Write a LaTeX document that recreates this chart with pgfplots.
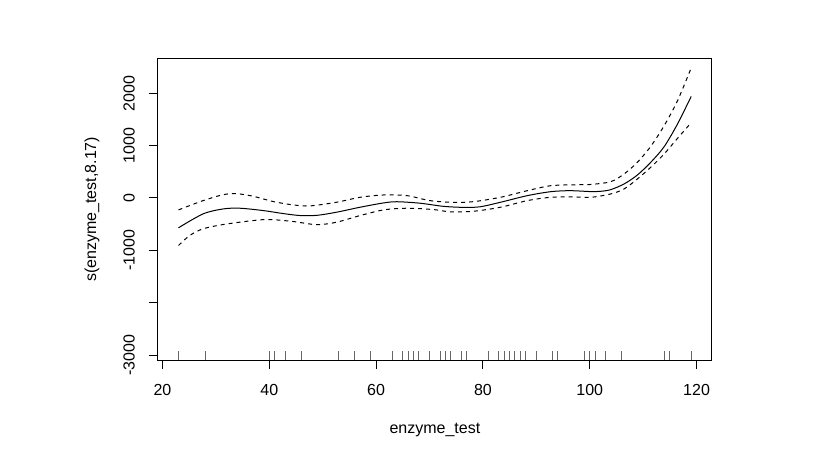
\documentclass[border=0pt]{standalone}
\usepackage{fontspec}
\setmainfont{Liberation Sans}
\usepackage{pgfplots}
\usepackage{pgfplotstable}
\pgfplotsset{compat=1.18}

% rug positions (observed enzyme_test values); y = rug tick centre
\pgfplotstableread{
x y
23 -3009.5
28 -3009.5
40 -3009.5
41 -3009.5
43 -3009.5
46 -3009.5
53 -3009.5
56 -3009.5
59 -3009.5
63 -3009.5
65 -3009.5
66 -3009.5
67 -3009.5
68 -3009.5
70 -3009.5
72 -3009.5
73 -3009.5
74 -3009.5
76 -3009.5
77 -3009.5
81 -3009.5
83 -3009.5
84 -3009.5
85 -3009.5
86 -3009.5
87 -3009.5
88 -3009.5
90 -3009.5
93 -3009.5
94 -3009.5
99 -3009.5
100 -3009.5
101 -3009.5
103 -3009.5
106 -3009.5
114 -3009.5
115 -3009.5
119 -3009.5
}\rugdata

\begin{document}
\begin{tikzpicture}
% page size: 820x472 px at 0.75pt per px
\path[use as bounding box] (-118.5pt,-84pt) rectangle (496.5pt,270pt);
\begin{axis}[
    at={(0,0)}, anchor=south west,
    scale only axis,
    width=415.3pt, height=226.1pt,
    xmin=19.16, xmax=122.84,
    ymin=-3095, ymax=2663,
    axis line style={line width=0.75pt},
    tick style={black, line width=0.75pt},
    tick align=outside,
    major tick length=6.75pt,
    xtick pos=bottom, ytick pos=left,
    xtick={20,40,60,80,100,120},
    xticklabels={20,40,60,80,100,120},
    ytick={-3000,-2000,-1000,0,1000,2000},
    yticklabels={-3000,,-1000,0,1000,2000},
    tick label style={font=\fontsize{12}{14}\selectfont},
    xticklabel style={anchor=center, yshift=-15.75pt},
    yticklabel style={rotate=90, anchor=center, yshift=15pt},
    label style={font=\fontsize{12}{14}\selectfont},
    xlabel={enzyme\_test},
    ylabel={s(enzyme\_test,8.17)},
    xlabel style={at={(axis description cs:0.5,-0.2322)}, anchor=center},
    ylabel style={at={(axis description cs:-0.1192,0.5)}, anchor=center},
    clip=false,
]
% estimated smooth
\addplot[black, line width=0.75pt, smooth] coordinates {
(23,-570) (27.6,-304) (31.4,-209) (34.5,-196) (38.9,-241) (42.6,-298)
(45.8,-336) (48.9,-332) (52.6,-272) (57.0,-177) (61.4,-95) (63.9,-72)
(68.3,-101) (72.6,-160) (76.5,-180) (79.5,-168) (83.3,-82) (88.3,44)
(92.7,120) (96.3,139) (100.2,122) (102.0,127) (103.9,158) (106.4,266)
(108.9,437) (111.4,679) (113.9,975) (116.4,1407) (119,1940)
};
% upper band
\addplot[black, line width=0.75pt, smooth, dash pattern=on 3pt off 3pt] coordinates {
(23,-228) (27.6,-51) (31.4,63) (33.9,82) (37.0,32) (40.8,-70) (44.5,-133)
(47.6,-152) (52.6,-82) (57.0,13) (61.4,57) (65.8,44) (70.1,-51) (74.5,-84)
(78.3,-70) (83.3,13) (88.3,139) (92.7,234) (97.7,253) (100.2,258)
(103.9,310) (106.4,456) (108.9,679) (111.4,983) (113.9,1375) (116.4,1850)
(119,2485)
};
% lower band
\addplot[black, line width=0.75pt, smooth, dash pattern=on 3pt off 3pt] coordinates {
(23,-907) (25.1,-717) (27.6,-589) (31.4,-507) (37.0,-431) (40.1,-412)
(44.5,-450) (48.9,-510) (52.6,-463) (57.0,-336) (61.4,-228) (65.8,-196)
(70.8,-222) (73.9,-265) (78.3,-253) (83.3,-177) (88.3,-51) (92.7,13)
(97.0,20) (100.2,12) (103.9,76) (106.4,171) (108.9,361) (111.4,584)
(113.9,837) (116.4,1135) (119,1439)
};
% rug
\addplot[only marks, mark=|, mark size=3.375pt, black!60,
    mark options={line width=0.75pt}] table[x=x, y=y] {\rugdata};
\end{axis}
\end{tikzpicture}
\end{document}
